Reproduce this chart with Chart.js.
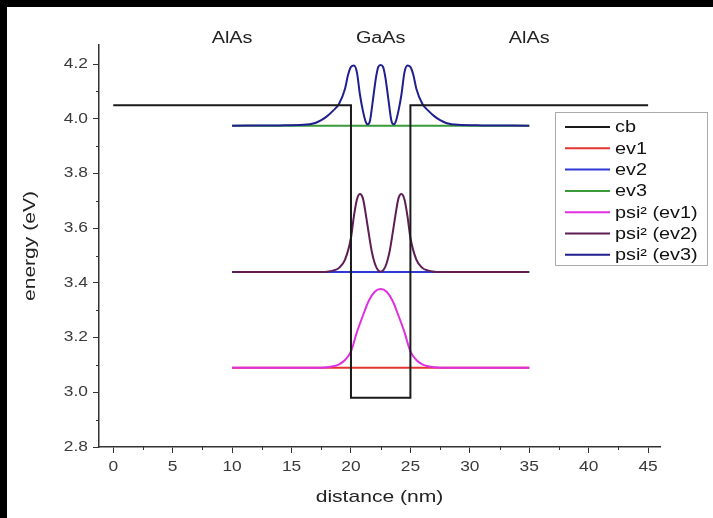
<!DOCTYPE html>
<html>
<head>
<meta charset="utf-8">
<script src="https://cdn.jsdelivr.net/npm/chart.js@4.4.0/dist/chart.umd.min.js"></script>
<style>
  html, body { margin: 0; padding: 0; background: #000; overflow: hidden; }
  #wrap { position: absolute; left: 7px; top: 7px; width: 706px; height: 511px; background: #fff; }
</style>
</head>
<body>
<div id="wrap"><canvas id="c" width="706" height="511"></canvas></div>
<script>
// conduction band profile
const cbX = [0, 20, 20, 25, 25, 45];
const cbY = [4.05, 4.05, 2.98, 2.98, 4.05, 4.05];

// eigen energies
const evX = [10, 35];
const ev1Y = [3.09, 3.09];
const ev2Y = [3.44, 3.44];
const ev3Y = [3.975, 3.975];

// psi² offset by eigen energy
const psi1X = [10, 17, 18, 18.5, 19, 19.5, 20, 20.5, 21, 21.5, 22, 22.5, 23, 23.5, 24, 24.5, 25, 25.5, 26, 26.5, 27, 28, 35];
const psi1Y = [3.09, 3.09, 3.092, 3.095, 3.102, 3.118, 3.15, 3.22, 3.28, 3.335, 3.368, 3.378, 3.368, 3.335, 3.28, 3.22, 3.15, 3.118, 3.102, 3.095, 3.092, 3.09, 3.09];

const psi2X = [10, 17.5, 18, 18.5, 19, 19.5, 20, 20.25, 20.5, 20.75, 21, 21.25, 21.5, 21.75, 22, 22.25, 22.5, 22.75, 23, 23.25, 23.5, 23.75, 24, 24.25, 24.5, 24.75, 25, 25.5, 26, 26.5, 27, 27.5, 35];
const psi2Y = [3.44, 3.44, 3.441, 3.445, 3.455, 3.485, 3.565, 3.645, 3.705, 3.725, 3.71, 3.65, 3.58, 3.515, 3.472, 3.448, 3.441, 3.448, 3.472, 3.515, 3.58, 3.65, 3.71, 3.725, 3.705, 3.645, 3.565, 3.485, 3.455, 3.445, 3.441, 3.44, 3.44];

const psi3X = [10, 14, 16, 17, 17.5, 18, 18.5, 19, 19.5, 19.75, 20, 20.25, 20.5, 20.75, 21, 21.25, 21.4, 21.6, 21.85, 22.1, 22.3, 22.5, 22.7, 22.9, 23.15, 23.4, 23.6, 23.75, 24, 24.25, 24.5, 24.75, 25, 25.25, 25.5, 26, 26.5, 27, 27.5, 28, 29, 31, 35];
const psi3Y = [3.975, 3.976, 3.978, 3.985, 3.995, 4.01, 4.03, 4.055, 4.11, 4.16, 4.19, 4.195, 4.17, 4.09, 4.03, 3.988, 3.98, 3.993, 4.07, 4.15, 4.19, 4.197, 4.19, 4.15, 4.07, 3.993, 3.98, 3.988, 4.03, 4.09, 4.17, 4.195, 4.19, 4.16, 4.11, 4.055, 4.03, 4.01, 3.995, 3.985, 3.978, 3.976, 3.975];

// layer labels above the plot
const regionLabels = ['AlAs', 'GaAs', 'AlAs'];
const regionX = [10, 22.5, 35];

const xTitle = 'distance (nm)';
const yTitle = 'energy (eV)';

const FONT = '"Liberation Sans", Arial, sans-serif';
const STRETCH = 1.24; // el texto del original está estirado en horizontal

function pts(xs, ys) {
  return xs.map((x, i) => ({ x: x, y: ys[i] }));
}

function line(label, xs, ys, color, order, smooth) {
  return {
    label: label,
    data: pts(xs, ys),
    borderColor: color,
    backgroundColor: color,
    borderWidth: 2,
    pointRadius: 0,
    fill: false,
    order: order,
    tension: 0,
    cubicInterpolationMode: smooth ? 'monotone' : 'default'
  };
}

function wideText(ctx, text, x, y, align, rot) {
  ctx.save();
  ctx.translate(x, y);
  if (rot) ctx.rotate(rot);
  ctx.scale(STRETCH, 1);
  ctx.textAlign = align;
  ctx.fillText(text, 0, 0);
  ctx.restore();
}

// dibuja textos, ticks menores y leyenda con marco
const extras = {
  id: 'extras',
  afterDraw(chart) {
    const ctx = chart.ctx;
    const xs = chart.scales.x, ys = chart.scales.y;
    ctx.save();
    // minor ticks
    ctx.strokeStyle = '#333';
    ctx.lineWidth = 1;
    for (let v = 2.5; v < 45; v += 5) {
      const px = Math.round(xs.getPixelForValue(v)) + 0.5;
      ctx.beginPath(); ctx.moveTo(px, xs.top); ctx.lineTo(px, xs.top + 3); ctx.stroke();
    }
    for (let v = 2.9; v < 4.2; v += 0.2) {
      const py = Math.round(ys.getPixelForValue(v)) + 0.5;
      ctx.beginPath(); ctx.moveTo(ys.right, py); ctx.lineTo(ys.right - 3, py); ctx.stroke();
    }
    ctx.textBaseline = 'middle';
    // tick labels
    ctx.fillStyle = '#3a3a3a';
    ctx.font = '14px ' + FONT;
    xs.ticks.forEach(t => wideText(ctx, String(t.value), xs.getPixelForValue(t.value), xs.top + 20, 'center'));
    ys.ticks.forEach(t => wideText(ctx, t.value.toFixed(1), ys.right - 11, ys.getPixelForValue(t.value), 'right'));
    // axis titles
    ctx.fillStyle = '#222';
    ctx.font = '17px ' + FONT;
    wideText(ctx, xTitle, (chart.chartArea.left + chart.chartArea.right) / 2, 490, 'center');
    wideText(ctx, yTitle, 23, (chart.chartArea.top + chart.chartArea.bottom) / 2, 'center', -Math.PI / 2);
    // region labels
    ctx.font = '16px ' + FONT;
    regionLabels.forEach((t, i) => wideText(ctx, t, xs.getPixelForValue(regionX[i]), 32, 'center'));
    // legend
    const bx = 548, by = 105, bw = 152, bh = 153;
    ctx.fillStyle = '#fff';
    ctx.fillRect(bx, by, bw, bh);
    ctx.strokeStyle = '#aaa';
    ctx.strokeRect(bx + 0.5, by + 0.5, bw, bh);
    ctx.font = '16px ' + FONT;
    chart.data.datasets.forEach((ds, i) => {
      const cy = by + 15 + i * 21.3;
      ctx.strokeStyle = ds.borderColor;
      ctx.lineWidth = 2;
      ctx.beginPath(); ctx.moveTo(bx + 10, cy); ctx.lineTo(bx + 55, cy); ctx.stroke();
      ctx.fillStyle = '#111';
      wideText(ctx, ds.label, bx + 60, cy + 1, 'left');
    });
    ctx.restore();
  }
};

new Chart(document.getElementById('c'), {
  type: 'line',
  data: {
    datasets: [
      line('cb', cbX, cbY, '#1a1a1a', 0, false),
      line('ev1', evX, ev1Y, '#e3342f', 2, false),
      line('ev2', evX, ev2Y, '#2f3ad6', 2, false),
      line('ev3', evX, ev3Y, '#3a9a3a', 2, false),
      line('psi² (ev1)', psi1X, psi1Y, '#e02fe0', 1, true),
      line('psi² (ev2)', psi2X, psi2Y, '#5e1d55', 1, true),
      line('psi² (ev3)', psi3X, psi3Y, '#1f1f8f', 1, true)
    ]
  },
  options: {
    responsive: false,
    animation: false,
    layout: { padding: { top: 38, right: 53, left: 0, bottom: 0 } },
    plugins: { legend: { display: false }, tooltip: { enabled: false } },
    scales: {
      x: {
        type: 'linear',
        min: -1.2,
        max: 46,
        afterFit: s => { s.height = 71; },
        border: { color: '#333', width: 1.5 },
        grid: { drawOnChartArea: false, drawTicks: true, tickLength: 6, color: '#333' },
        ticks: { stepSize: 5, includeBounds: false, display: false }
      },
      y: {
        type: 'linear',
        min: 2.8,
        max: 4.27,
        afterFit: s => { s.width = 92; },
        border: { color: '#333', width: 1.5 },
        grid: { drawOnChartArea: false, drawTicks: true, tickLength: 6, color: '#333' },
        ticks: { stepSize: 0.2, includeBounds: false, display: false }
      }
    }
  },
  plugins: [extras]
});
</script>
</body>
</html>
